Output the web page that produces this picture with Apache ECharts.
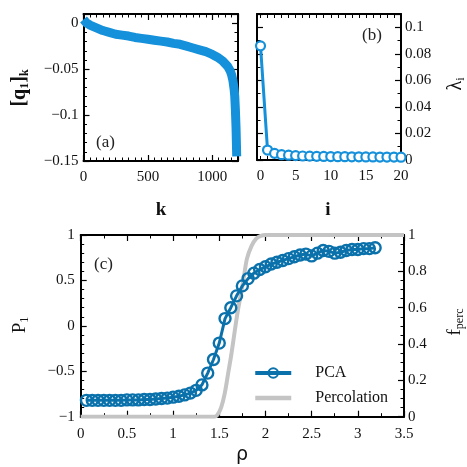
<!DOCTYPE html>
<html>
<head>
<meta charset="utf-8">
<script src="https://cdn.jsdelivr.net/npm/echarts@6/dist/echarts.min.js"></script>
<style>
  html, body { margin: 0; padding: 0; background: #fff; }
  #main { width: 467px; height: 467px; }
</style>
</head>
<body>
<div id="main"></div>
<script>
// (a) first principal component entries
const kIndex = [0, 10, 25, 50, 100, 150, 200, 250, 300, 350, 400, 450, 500, 550, 600, 650, 700, 750, 800, 850, 900, 950, 1000, 1040, 1080, 1100, 1120, 1140, 1150, 1160, 1170, 1175, 1180, 1185, 1190];
const q1Values = [0.004, 0.002, 0.0, -0.002, -0.005, -0.008, -0.010, -0.012, -0.013, -0.014, -0.0155, -0.0165, -0.0175, -0.0185, -0.0195, -0.0205, -0.022, -0.023, -0.025, -0.027, -0.029, -0.031, -0.034, -0.037, -0.041, -0.044, -0.047, -0.052, -0.056, -0.062, -0.072, -0.08, -0.095, -0.115, -0.145];

// (b) eigenvalues
const eigIndex = [0, 1, 2, 3, 4, 5, 6, 7, 8, 9, 10, 11, 12, 13, 14, 15, 16, 17, 18, 19, 20];
const eigValues = [0.086, 0.0075, 0.005, 0.004, 0.0036, 0.0033, 0.003, 0.0029, 0.0028, 0.0027, 0.0026, 0.0025, 0.0025, 0.0024, 0.0024, 0.0023, 0.0023, 0.0022, 0.0022, 0.0022, 0.0021];

// (c) PCA order parameter and percolation fraction
const rho = [0.0625, 0.125, 0.1875, 0.25, 0.3125, 0.375, 0.4375, 0.5, 0.5625, 0.625, 0.6875, 0.75, 0.8125, 0.875, 0.9375, 1.0, 1.0625, 1.125, 1.1875, 1.25, 1.3125, 1.375, 1.4375, 1.5, 1.5625, 1.625, 1.6875, 1.75, 1.8125, 1.875, 1.9375, 2.0, 2.0625, 2.125, 2.1875, 2.25, 2.3125, 2.375, 2.4375, 2.5, 2.5625, 2.625, 2.6875, 2.75, 2.8125, 2.875, 2.9375, 3.0, 3.0625, 3.125, 3.1875];
const pcaValues = [-0.82, -0.82, -0.82, -0.82, -0.82, -0.82, -0.82, -0.815, -0.815, -0.815, -0.81, -0.81, -0.805, -0.8, -0.795, -0.785, -0.775, -0.76, -0.74, -0.71, -0.65, -0.52, -0.37, -0.19, 0.08, 0.2, 0.33, 0.44, 0.52, 0.58, 0.62, 0.65, 0.68, 0.7, 0.72, 0.74, 0.76, 0.78, 0.79, 0.77, 0.8, 0.83, 0.82, 0.8, 0.81, 0.83, 0.84, 0.84, 0.85, 0.85, 0.86];
const percRho = [0, 1.45, 1.48, 1.52, 1.56, 1.6, 1.63, 1.67, 1.7, 1.74, 1.77, 1.8, 1.85, 1.9, 1.95, 2.0, 3.5];
const percValues = [0, 0, 0.01, 0.05, 0.13, 0.25, 0.34, 0.48, 0.58, 0.69, 0.78, 0.87, 0.94, 0.98, 0.995, 1, 1];

const bTicks = [0, 5, 10, 15, 20];
const bMinorTicks = [0, 1, 2, 3, 4, 5, 6, 7, 8, 9, 10, 11, 12, 13, 14, 15, 16, 17, 18, 19, 20];

const FONT = "'Liberation Serif', 'DejaVu Serif', serif";
const BLUE_A = "#1590da";
const BLUE_C = "#0a71ab";
const GREY = "#c4c4c4";

function fmt(v) {
  const s = String(+Number(v).toFixed(4));
  return s.replace("-", "\u2212");
}

function axis(opts) {
  const base = {
    gridIndex: opts.grid,
    type: "value",
    position: opts.position,
    min: opts.min,
    max: opts.max,
    interval: opts.interval,
    splitLine: { show: false },
    axisLine: { show: true, onZero: false, lineStyle: { color: "#000", width: 2 } },
    axisTick: { show: true, inside: true, length: 6, lineStyle: { color: "#000", width: 1.2 } },
    minorTick: { show: opts.minor != null, splitNumber: opts.minor || 5, length: 3.5, lineStyle: { color: "#000", width: 1 } },
    axisLabel: {
      show: !!opts.labels,
      fontFamily: FONT,
      fontSize: 15,
      color: "#111",
      margin: opts.margin || 6,
      showMaxLabel: opts.showMax !== false,
      formatter: fmt
    }
  };
  return Object.assign(base, opts.extra || {});
}

const chart = echarts.init(document.getElementById("main"), null, { renderer: "canvas" });

const bTickStyle = { show: true, inside: true, length: 4, customValues: bMinorTicks, lineStyle: { color: "#000", width: 1 } };

const option = {
  animation: false,
  backgroundColor: "#fff",
  grid: [
    { left: 83.5, top: 14, width: 154.5, height: 147 },
    { left: 257, top: 14, width: 144, height: 146 },
    { left: 80.7, top: 235, width: 323.3, height: 181.7 }
  ],
  xAxis: [
    axis({ grid: 0, position: "bottom", min: 0, max: 1200, interval: 500, minor: 10, labels: true, showMax: false, margin: 9 }),
    axis({ grid: 0, position: "top", min: 0, max: 1200, interval: 500, minor: 10 }),
    axis({ grid: 1, position: "bottom", min: -0.5, max: 20, labels: true, margin: 9, extra: {
      axisTick: bTickStyle,
      axisLabel: { show: true, fontFamily: FONT, fontSize: 15, color: "#111", margin: 9, customValues: bTicks, formatter: fmt }
    } }),
    axis({ grid: 1, position: "top", min: -0.5, max: 20, extra: { axisTick: bTickStyle } }),
    axis({ grid: 2, position: "bottom", min: 0, max: 3.5, interval: 0.5, minor: 2, labels: true, margin: 10 }),
    axis({ grid: 2, position: "top", min: 0, max: 3.5, interval: 0.5, minor: 2 })
  ],
  yAxis: [
    axis({ grid: 0, position: "left", min: -0.15, max: 0.01, interval: 0.05, minor: 5, labels: true, showMax: false, margin: 5 }),
    axis({ grid: 0, position: "right", min: -0.15, max: 0.01, interval: 0.05, minor: 5 }),
    axis({ grid: 1, position: "right", min: 0, max: 0.11, interval: 0.02, minor: 2, labels: true, showMax: false, margin: 4 }),
    axis({ grid: 1, position: "left", min: 0, max: 0.11, interval: 0.02, minor: 2 }),
    axis({ grid: 2, position: "left", min: -1, max: 1, interval: 0.5, minor: 5, labels: true, margin: 6 }),
    axis({ grid: 2, position: "right", min: 0, max: 1, interval: 0.2, minor: 4, labels: true, margin: 4 })
  ],
  legend: {
    orient: "vertical",
    left: 248,
    top: 360,
    itemWidth: 36,
    itemHeight: 12,
    itemGap: 9,
    data: [
      { name: "PCA", lineStyle: { width: 4 } },
      { name: "Percolation", itemStyle: { opacity: 0 }, lineStyle: { width: 4.5 } }
    ],
    textStyle: { fontFamily: FONT, fontSize: 16, color: "#111", padding: [0, 0, 0, 19] }
  },
  series: [
    {
      name: "q1",
      type: "line",
      xAxisIndex: 0,
      yAxisIndex: 0,
      data: kIndex.map((k, i) => [k, q1Values[i]]),
      showSymbol: false,
      lineStyle: { color: BLUE_A, width: 9, join: "round" }
    },
    {
      name: "eig",
      type: "line",
      xAxisIndex: 2,
      yAxisIndex: 2,
      data: eigIndex.map((k, i) => [k, eigValues[i]]),
      symbol: "circle",
      symbolSize: 9,
      clip: false,
      lineStyle: { color: BLUE_A, width: 3 },
      itemStyle: { color: "#fff", borderColor: BLUE_A, borderWidth: 2.2 }
    },
    {
      name: "Percolation",
      type: "line",
      xAxisIndex: 4,
      yAxisIndex: 5,
      data: percRho.map((r, i) => [r, percValues[i]]),
      symbol: "none",
      smooth: 0.3,
      lineStyle: { color: GREY, width: 4 },
      itemStyle: { color: GREY }
    },
    {
      name: "PCA",
      type: "line",
      xAxisIndex: 4,
      yAxisIndex: 4,
      data: rho.map((r, i) => [r, pcaValues[i]]),
      symbol: "circle",
      symbolSize: 11,
      lineStyle: { color: BLUE_C, width: 3 },
      itemStyle: { color: "rgba(255,255,255,0)", borderColor: BLUE_C, borderWidth: 2.4 }
    }
  ],
  graphic: [
    { type: "text", left: 96, top: 134, style: { text: "(a)", font: "17px " + FONT, fill: "#222" } },
    { type: "text", left: 362, top: 27, style: { text: "(b)", font: "17px " + FONT, fill: "#222" } },
    { type: "text", left: 94, top: 256, style: { text: "(c)", font: "17px " + FONT, fill: "#222" } },
    { type: "text", x: 161, y: 210, style: { text: "k", font: "bold 19px " + FONT, fill: "#111", align: "center", verticalAlign: "middle" } },
    { type: "text", x: 328, y: 210, style: { text: "i", font: "bold 19px " + FONT, fill: "#111", align: "center", verticalAlign: "middle" } },
    { type: "text", x: 242, y: 455, style: { text: "\u03c1", font: "19px 'DejaVu Sans', sans-serif", fill: "#111", align: "center", verticalAlign: "middle" } },
    {
      type: "text", x: 20, y: 88, rotation: Math.PI / 2,
      style: {
        text: "{m|[q}{s|1}{m|]}{s|k}", align: "center", verticalAlign: "middle",
        rich: {
          m: { fontFamily: FONT, fontSize: 20, fontWeight: "bold", fill: "#111" },
          s: { fontFamily: FONT, fontSize: 12, fontWeight: "bold", fill: "#111", padding: [10, 0, 0, 0] }
        }
      }
    },
    {
      type: "text", x: 456, y: 84, rotation: Math.PI / 2,
      style: {
        text: "{m|\u03bb}{s|i}", align: "center", verticalAlign: "middle",
        rich: {
          m: { fontFamily: FONT, fontSize: 20, fill: "#111" },
          s: { fontFamily: FONT, fontSize: 12, fill: "#111", padding: [10, 0, 0, 0] }
        }
      }
    },
    {
      type: "text", x: 20, y: 325, rotation: Math.PI / 2,
      style: {
        text: "{m|P}{s|1}", align: "center", verticalAlign: "middle",
        rich: {
          m: { fontFamily: FONT, fontSize: 19, fill: "#111" },
          s: { fontFamily: FONT, fontSize: 12, fill: "#111", padding: [10, 0, 0, 0] }
        }
      }
    },
    {
      type: "text", x: 455, y: 322, rotation: Math.PI / 2,
      style: {
        text: "{m|f}{s|perc}", align: "center", verticalAlign: "middle",
        rich: {
          m: { fontFamily: FONT, fontSize: 19, fill: "#111" },
          s: { fontFamily: FONT, fontSize: 12, fill: "#111", padding: [10, 0, 0, 0] }
        }
      }
    }
  ]
};

chart.setOption(option);
</script>
</body>
</html>
